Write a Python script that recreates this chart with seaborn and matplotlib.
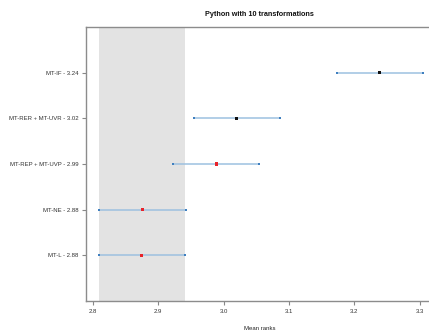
import matplotlib
matplotlib.use("Agg")
import matplotlib.pyplot as plt
import seaborn as sns
import pandas as pd

# Mean ranks and confidence intervals per transformation (top to bottom)
labels = ["MT-IF", "MT-RER + MT-UVR", "MT-REP + MT-UVP", "MT-NE", "MT-L"]
mean_ranks = [3.238, 3.020, 2.989, 2.876, 2.875]
ci_low = [3.173, 2.955, 2.923, 2.810, 2.810]
ci_high = [3.305, 3.086, 3.054, 2.942, 2.941]
point_kind = ["black", "black", "red", "red", "red"]
x_ticks = [2.8, 2.9, 3.0, 3.1, 3.2, 3.3]

df = pd.DataFrame({
    "label": labels,
    "mean": mean_ranks,
    "low": ci_low,
    "high": ci_high,
    "kind": point_kind,
})
df["pos"] = range(len(df))
df["ticklabel"] = [f"{l} - {m:.2f}" for l, m in zip(df["label"], df["mean"])]

sns.set_theme(style="white")
plt.rcParams["font.family"] = ["Liberation Sans", "DejaVu Sans"]

fig = plt.figure(figsize=(4.29, 3.33), dpi=100)
ax = fig.add_axes([0.201, 0.096, 0.808, 0.823])

# Band covering the interval of the best-ranked entry
best = df.loc[df["mean"].idxmin()]
ax.axvspan(best["low"], best["high"], color="#e3e3e3", zorder=0, lw=0)

# Interval lines and their end markers
ax.hlines(df["pos"], df["low"], df["high"], color="#9dc1e0", lw=1.1, zorder=2)
ends = pd.concat([
    df[["pos", "low"]].rename(columns={"low": "x"}),
    df[["pos", "high"]].rename(columns={"high": "x"}),
])
sns.scatterplot(data=ends, x="x", y="pos", ax=ax, color="#3f7fbf", marker="s",
                s=3, linewidth=0, zorder=3, legend=False)

# Mean rank markers
sns.scatterplot(data=df, x="mean", y="pos", hue="kind", ax=ax,
                palette={"black": "#111111", "red": "#e8232a"}, marker="s",
                s=5, linewidth=0, zorder=4, legend=False)

ax.set_xlim(2.79, 3.32)
ax.set_ylim(len(df), -1)
ax.set_yticks(df["pos"])
ax.set_yticklabels(df["ticklabel"])
ax.set_xticks(x_ticks)
ax.set_xticklabels([f"{t:.1f}" for t in x_ticks])
ax.set_ylabel("")
ax.set_xlabel("Mean ranks", fontsize=4.3, color="#222222", labelpad=9)
ax.set_title("Python with 10 transformations", fontsize=5.2, fontweight="bold",
             color="#111111", pad=8)

ax.tick_params(axis="both", which="both", labelsize=4.3, colors="#888888",
               labelcolor="#333333", length=3, width=0.8, direction="out",
               left=True, bottom=True, pad=2.5)
for side in ["left", "bottom", "top", "right"]:
    ax.spines[side].set_color("#8c8c8c")
    ax.spines[side].set_linewidth(1.0)

fig.savefig("out.png", dpi=100)
